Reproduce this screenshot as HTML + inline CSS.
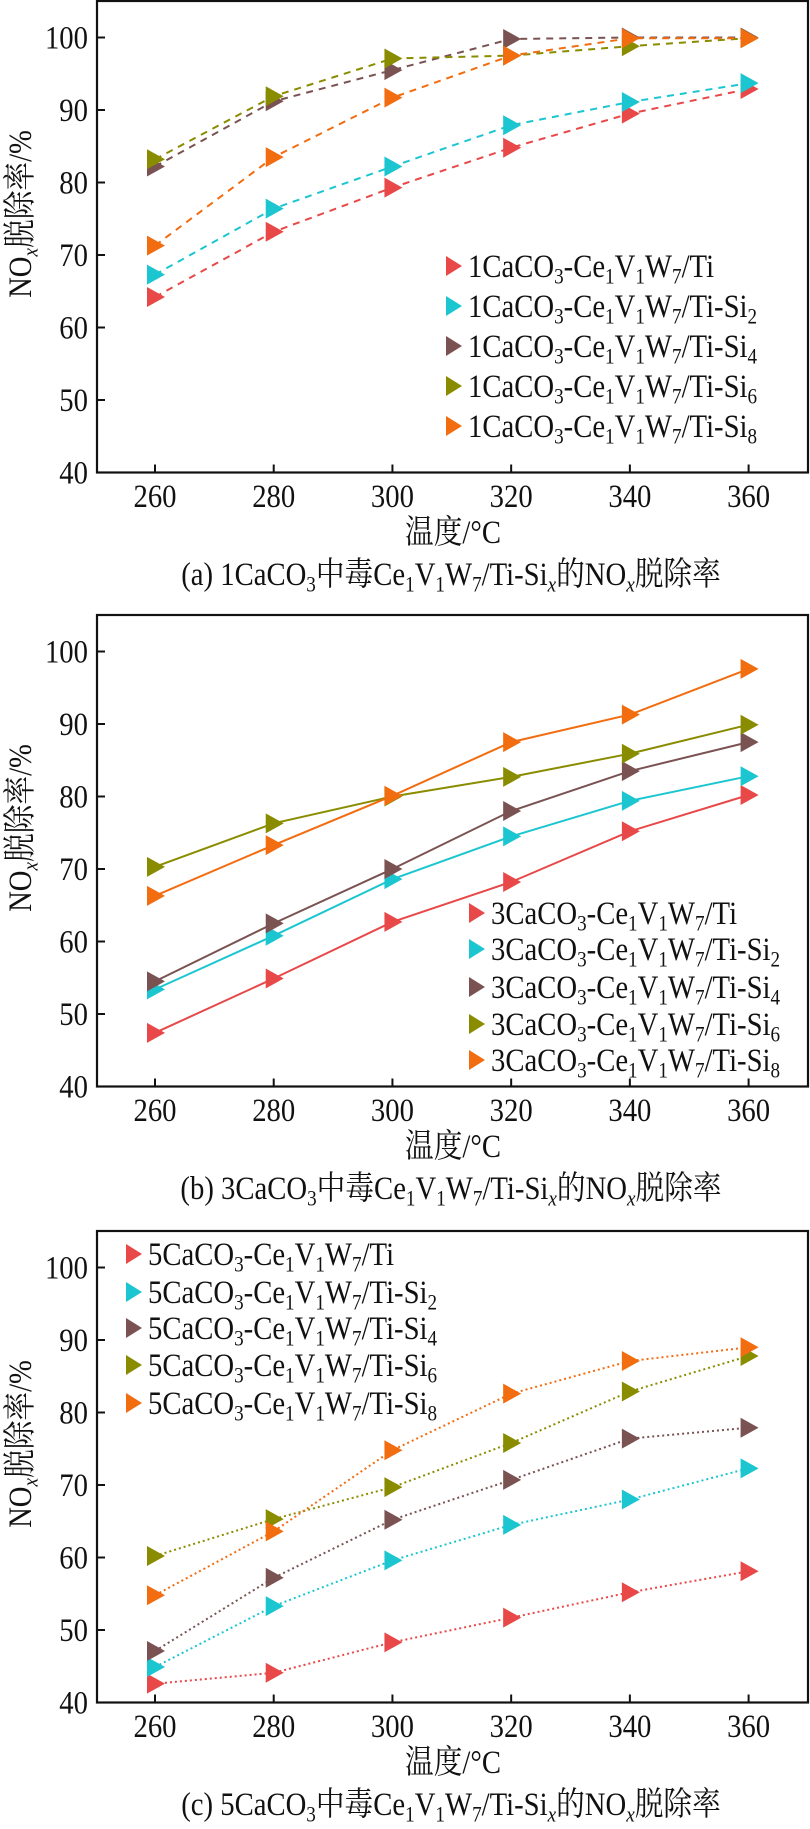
<!DOCTYPE html>
<html><head><meta charset="utf-8">
<style>
html,body{margin:0;padding:0;background:#fff;}
svg{display:block;font-family:"Liberation Serif","Noto Serif CJK SC","Noto Sans CJK SC",serif;}
</style></head>
<body>
<svg id="chart" width="810" height="1829" viewBox="0 0 810 1829" xmlns="http://www.w3.org/2000/svg"></svg>
<script>
const temps = [260, 280, 300, 320, 340, 360];
const xTicks = [260, 280, 300, 320, 340, 360];
const yTicks = [40, 50, 60, 70, 80, 90, 100];
const seriesColors = ['#e84848', '#1cc6d0', '#7a5252', '#8a8c00', '#f26c10'];
const seriesSuffix = ['', '2', '4', '6', '8'];

const a_ti   = [64.2, 73.2, 79.3, 84.8, 89.5, 92.9];
const a_si2  = [67.3, 76.4, 82.2, 87.9, 91.1, 93.7];
const a_si4  = [82.2, 91.2, 95.5, 99.8, 100.0, 100.0];
const a_si6  = [83.2, 91.9, 97.1, 97.5, 98.8, 99.9];
const a_si8  = [71.3, 83.5, 91.7, 97.5, 99.9, 99.9];

const b_ti   = [47.4, 54.9, 62.7, 68.2, 75.2, 80.2];
const b_si2  = [53.4, 60.8, 68.6, 74.5, 79.4, 82.8];
const b_si4  = [54.5, 62.5, 70.0, 78.0, 83.5, 87.5];
const b_si6  = [70.3, 76.3, 80.0, 82.7, 85.9, 89.9];
const b_si8  = [66.3, 73.3, 80.1, 87.5, 91.3, 97.6];

const c_ti   = [42.6, 44.1, 48.3, 51.7, 55.2, 58.1];
const c_si2  = [44.9, 53.3, 59.6, 64.5, 68.0, 72.3];
const c_si4  = [47.1, 57.2, 65.2, 70.7, 76.4, 77.9];
const c_si6  = [60.2, 65.3, 69.7, 75.8, 82.9, 87.8];
const c_si8  = [54.8, 63.6, 74.8, 82.6, 87.1, 89.0];

const panels = [
  {id:'a', top:0, prefix:'1', series:[a_ti,a_si2,a_si4,a_si6,a_si8], dash:'7,6', legX:453, legY:[266,306,346,386,426]},
  {id:'b', top:614, prefix:'3', series:[b_ti,b_si2,b_si4,b_si6,b_si8], dash:'', legX:476, legY:[299,335,373,410,446]},
  {id:'c', top:1230, prefix:'5', series:[c_ti,c_si2,c_si4,c_si6,c_si8], dash:'2,3', legX:133, legY:[24,62,98,135,173]}
];

const NS = 'http://www.w3.org/2000/svg';
const svg = document.getElementById('chart');
function mk(tag, attrs, parent){
  const e = document.createElementNS(NS, tag);
  for (const k in attrs) e.setAttribute(k, attrs[k]);
  parent.appendChild(e);
  return e;
}
const SX = 0.87;
function txt(parent, x, y, anchor, size, extra){
  const gg = mk('g', {transform:'translate('+x+','+y+') '+(extra||'')+' scale('+SX+',1)'}, parent);
  return mk('text', {x:0, y:0, 'text-anchor':anchor, 'font-size':size, fill:'#111'}, gg);
}
const xL = 97, xR = 808;
function xs(v){ return 155 + (v - 260) * (748.6 - 155) / 100; }
function ys(v, top){ return top + 472.5 - (v - 40) * (435 / 60); }
const SUB = 'font-size="22" baseline-shift="-30%"';

function legendLabel(prefix, suf){
  let s = prefix+'CaCO<tspan '+SUB+'>3</tspan>-Ce<tspan '+SUB+'>1</tspan>V<tspan '+SUB+'>1</tspan>W<tspan '+SUB+'>7</tspan>/Ti';
  if (suf) s += '-Si<tspan '+SUB+'>'+suf+'</tspan>';
  return s;
}

panels.forEach(P=>{
  const g = mk('g', {}, svg);
  
  
  const top = P.top;
  const frame = mk('rect', {x:xL, y:top+1, width:xR-xL, height:471.5, fill:'none', stroke:'#111', 'stroke-width':2.2}, g);
  
  
  yTicks.forEach(v=>{
    const y = ys(v, top);
    const tk = mk('line', {x1:xL, x2:xL+8, y1:y, y2:y, stroke:'#111', 'stroke-width':2}, g);
    
    
    const tl = txt(g, 88, y+11, 'end', 33);
    tl.textContent = v;
    
    
  });
  xTicks.forEach(v=>{
    const x = xs(v);
    const tk = mk('line', {x1:x, x2:x, y1:top+472.5, y2:top+464.5, stroke:'#111', 'stroke-width':2}, g);
    
    
    const tl = txt(g, x, top+507, 'middle', 33);
    tl.textContent = v;
    
    
  });
  const xt = txt(g, 453, top+543, 'middle', 33);
  xt.textContent = '温度/°C';
  
  
  const yt = txt(g, 31, top+214, 'middle', 33, 'rotate(-90)');
  yt.innerHTML = 'NO<tspan font-style="italic" '+SUB+'>x</tspan>脱除率/%';
  
  
  const cap = txt(g, 451, top+585, 'middle', 33);
  cap.innerHTML = '('+P.id+') '+P.prefix+'CaCO<tspan '+SUB+'>3</tspan>中毒Ce<tspan '+SUB+'>1</tspan>V<tspan '+SUB+'>1</tspan>W<tspan '+SUB+'>7</tspan>/Ti-Si<tspan font-style="italic" '+SUB+'>x</tspan>的NO<tspan font-style="italic" '+SUB+'>x</tspan>脱除率';
  
  

  P.series.forEach((vals, si)=>{
    const col = seriesColors[si];
    const sg = mk('g', {}, g);
    
    
    const pts = vals.map((v,i)=> xs(temps[i]).toFixed(1)+','+ys(v, top).toFixed(1)).join(' ');
    const line = mk('polyline', {points:pts, fill:'none', stroke:col, 'stroke-width':2}, sg);
    if (P.dash) line.setAttribute('stroke-dasharray', P.dash);
    
    
    vals.forEach((v,i)=>{
      const x = xs(temps[i]), y = ys(v, top);
      const m = mk('polygon', {points:(x-8)+','+(y-10)+' '+(x+10)+','+y+' '+(x-8)+','+(y+10), fill:col}, sg);
      
      
    });
    const ly = top + P.legY[si];
    const lm = mk('polygon', {points:(P.legX-7)+','+(ly-10)+' '+(P.legX+9)+','+ly+' '+(P.legX-7)+','+(ly+10), fill:col}, g);
    
    
    const lt = txt(g, P.legX+15, ly+11, 'start', 33);
    lt.innerHTML = legendLabel(P.prefix, seriesSuffix[si]);
    
    
  });
});
</script>
</body></html>
